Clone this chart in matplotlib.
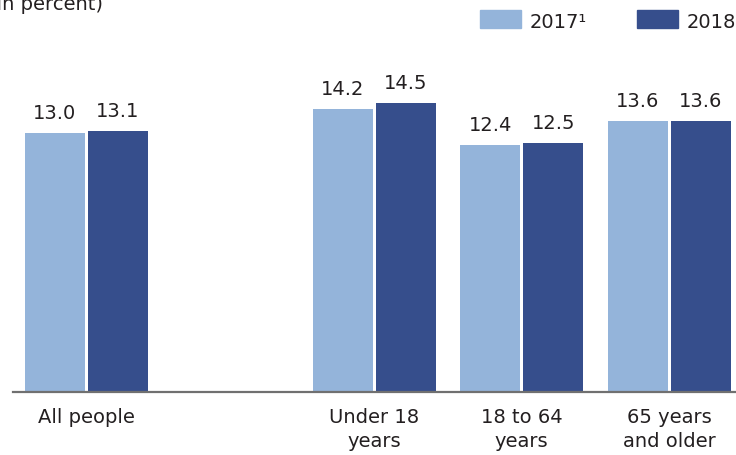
import matplotlib.pyplot as plt
from matplotlib.patches import Rectangle

# Poverty rate by age group, in percent
groups = ["All people", "Under 18\nyears", "18 to 64\nyears", "65 years\nand older"]
years = ["2017\u00b9", "2018"]
rate_2017 = [13.0, 14.2, 12.4, 13.6]
rate_2018 = [13.1, 14.5, 12.5, 13.6]

light = "#94b4da"
dark = "#364e8c"
text_col = "#231f20"

plt.rcParams["font.family"] = "DejaVu Sans"

W, H = 736, 455
fig = plt.figure(figsize=(W / 100, H / 100), dpi=100)

# axes fill the width; baseline sits ~64 px above the bottom edge
base = 63.5
ax = fig.add_axes([13 / W, base / H, (W - 13) / W, (H - base) / H])

pos = [0, 1.95, 2.95, 3.95]
bw = 0.407
off = 0.2136

b1 = ax.bar([p - off for p in pos], rate_2017, width=bw, color=light)
b2 = ax.bar([p + off for p in pos], rate_2018, width=bw, color=dark)

for bars, vals in ((b1, rate_2017), (b2, rate_2018)):
    for rect, v in zip(bars, vals):
        ax.annotate(f"{v:.1f}", (rect.get_x() + rect.get_width() / 2, v),
                    xytext=(0, 10), textcoords="offset points",
                    ha="center", va="baseline", fontsize=14, color=text_col)

ax.set_xlim((13 - 86.5) / 147.5, (W - 86.5) / 147.5)
ax.set_ylim(0, (H - base) / 19.88)

ax.set_xticks(pos)
ax.set_xticklabels(groups, fontsize=14, color=text_col, linespacing=1.35)
ax.tick_params(axis="x", length=0, pad=12)
ax.set_yticks([])
for s in ("top", "right", "left"):
    ax.spines[s].set_visible(False)
ax.spines["bottom"].set_color("#707070")
ax.spines["bottom"].set_linewidth(1.6)

# unit note, cut off at the top-left corner
fig.text(103 / W, 1 - 9.5 / H, "(In percent)", ha="right", va="baseline",
         fontsize=14, color=text_col)

# legend swatches along the top right
for x0, col, lab in ((480, light, years[0]), (637, dark, years[1])):
    fig.patches.append(Rectangle((x0 / W, 1 - 28 / H), 41 / W, 18 / H,
                                 transform=fig.transFigure, color=col))
    fig.text((x0 + 50) / W, 1 - 28 / H, lab, ha="left", va="baseline",
             fontsize=14, color=text_col)

fig.savefig("out.png", dpi=100)
